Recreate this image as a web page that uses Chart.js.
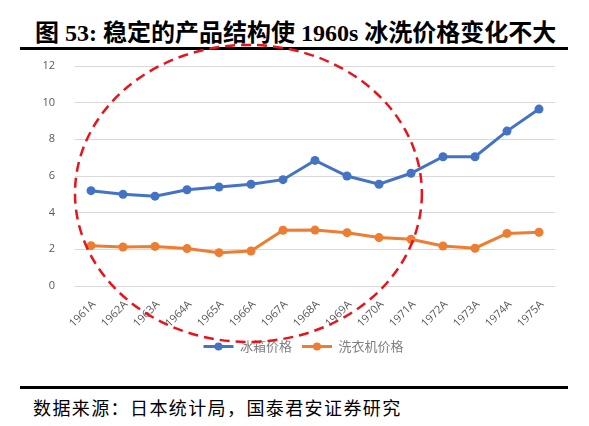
<!DOCTYPE html>
<html>
<head>
<meta charset="utf-8">
<script src="https://cdn.jsdelivr.net/npm/chart.js"></script>
<style>
  html, body { margin: 0; padding: 0; background: #fff; }
  #wrap { position: relative; width: 589px; height: 426px; overflow: hidden; }
  #title {
    position: absolute; left: 35px; top: 13px; white-space: nowrap;
    font: bold 24px "Liberation Serif", "Noto Sans CJK SC"; color: #000;
  }
  .rule { position: absolute; left: 20px; width: 548px; height: 3px; background: #000; }
  #source {
    position: absolute; left: 33px; top: 394px; white-space: nowrap;
    font: 18px "Noto Sans CJK SC"; letter-spacing: 1.4px; color: #000;
  }
  #c { position: absolute; left: 0; top: 0; }
</style>
</head>
<body>
<div id="wrap">
  <div id="title">图 53: 稳定的产品结构使 1960s 冰洗价格变化不大</div>
  <div class="rule" style="top:47px"></div>
  <div class="rule" style="top:386px"></div>
  <div id="source">数据来源：日本统计局，国泰君安证券研究</div>
  <canvas id="c" width="589" height="426"></canvas>
</div>
<script>
const years = ['1961A', '1962A', '1963A', '1964A', '1965A', '1966A', '1967A', '1968A',
  '1969A', '1970A', '1971A', '1972A', '1973A', '1974A', '1975A'];
const fridgePrice = [5.2, 5.0, 4.9, 5.25, 5.4, 5.55, 5.8, 6.85, 6.0, 5.55, 6.15, 7.05, 7.05, 8.45, 9.65];
const washerPrice = [2.2, 2.13, 2.16, 2.04, 1.82, 1.91, 3.04, 3.05, 2.91, 2.64, 2.55, 2.18, 2.06, 2.87, 2.93];
const seriesNames = ['冰箱价格', '洗衣机价格'];
const yMin = 0, yMax = 12, yStep = 2;

// red dashed ring, in axis units (category index / value)
const ring = { x: 4.92, y: 5.05, rx: 5.42, ry: 8.1 };

const blue = '#4472C4';
const orange = '#ED7D31';

const ringPlugin = {
  id: 'ring',
  afterDraw(chart) {
    const { ctx, scales: { x, y } } = chart;
    const cx = x.getPixelForValue(ring.x);
    const cy = y.getPixelForValue(ring.y);
    const rx = x.getPixelForValue(ring.x + ring.rx) - cx;
    const ry = cy - y.getPixelForValue(ring.y + ring.ry);
    ctx.save();
    ctx.strokeStyle = '#e8141b';
    ctx.lineWidth = 2.5;
    ctx.setLineDash([10, 6]);
    ctx.beginPath();
    ctx.ellipse(cx, cy, rx, ry, 0, 0, Math.PI * 2);
    ctx.stroke();
    ctx.restore();
  }
};

// legend sits a bit right of centre in the original
const legendShift = {
  id: 'legendShift',
  afterLayout(chart) {
    if (chart.legend) {
      chart.legend.left += 26;
      chart.legend.right += 26;
    }
  }
};

// dot in the middle of each legend line
const legendDots = {
  id: 'legendDots',
  afterDraw(chart) {
    const lg = chart.legend;
    if (!lg || !lg.legendHitBoxes) return;
    const ctx = chart.ctx;
    const bw = lg.options.labels.boxWidth;
    lg.legendHitBoxes.forEach((hb, i) => {
      ctx.save();
      ctx.fillStyle = chart.data.datasets[i].borderColor;
      ctx.beginPath();
      ctx.arc(hb.left + bw / 2, hb.top + hb.height / 2, 4, 0, Math.PI * 2);
      ctx.fill();
      ctx.restore();
    });
  }
};

function series(label, data, color) {
  return {
    label: label,
    data: data,
    borderColor: color,
    backgroundColor: color,
    borderWidth: 3,
    pointRadius: 4.5,
    pointBackgroundColor: color,
    pointBorderWidth: 0,
    tension: 0,
  };
}

const ctx = document.getElementById('c').getContext('2d');
new Chart(ctx, {
  type: 'line',
  data: {
    labels: years,
    datasets: [
      series(seriesNames[0], fridgePrice, blue),
      series(seriesNames[1], washerPrice, orange),
    ],
  },
  options: {
    responsive: false,
    animation: false,
    layout: {
      padding: { left: 0, right: 34, top: 66, bottom: 63 },
    },
    plugins: {
      legend: {
        display: true,
        position: 'bottom',
        labels: {
          boxWidth: 30,
          boxHeight: 3,
          padding: 10,
          color: '#808080',
          font: { family: '"Noto Sans CJK SC"', size: 13 },
          generateLabels(chart) {
            return Chart.defaults.plugins.legend.labels.generateLabels(chart)
              .map(item => Object.assign(item, { lineWidth: 0 }));
          },
        },
      },
      tooltip: { enabled: false },
    },
    scales: {
      x: {
        offset: true,
        grid: { display: false },
        border: { display: false },
        ticks: {
          maxRotation: 45,
          minRotation: 45,
          padding: 4,
          labelOffset: 3,
          color: '#595959',
          font: { family: '"Open Sans"', size: 11 },
        },
        afterFit(s) { s.height = 44; },
      },
      y: {
        min: yMin,
        max: yMax,
        grid: { color: '#d9d9d9', lineWidth: 1, drawTicks: false },
        border: { display: false },
        ticks: {
          stepSize: yStep,
          padding: 20,
          color: '#595959',
          font: { family: '"Open Sans"', size: 11 },
        },
        afterFit(s) { s.width = 75; },
      },
    },
  },
  plugins: [ringPlugin, legendShift, legendDots],
});
</script>
</body>
</html>
